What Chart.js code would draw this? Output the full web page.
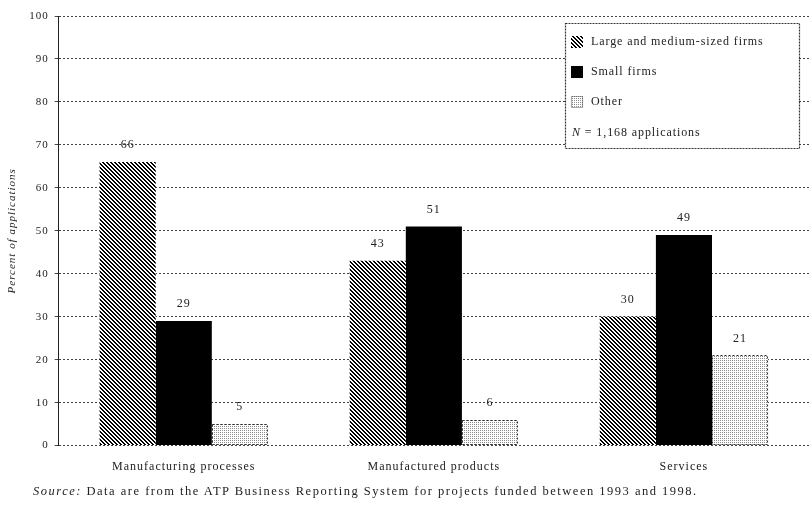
<!DOCTYPE html>
<html><head><meta charset="utf-8">
<script src="https://cdn.jsdelivr.net/npm/chart.js@4/dist/chart.umd.min.js"></script>
<style>
html,body{margin:0;padding:0;background:#fff;}
#wrap{position:relative;width:809px;height:505px;}
#src{position:absolute;left:33px;top:484px;font:12.5px "Liberation Serif",serif;letter-spacing:1.5px;color:#222;white-space:nowrap;}
</style></head>
<body>
<div id="wrap"><canvas id="c" width="809" height="505"></canvas>
<div id="src"><i>Source:</i> Data are from the ATP Business Reporting System for projects funded between 1993 and 1998.</div></div>
<script>
const categories = ["Manufacturing processes", "Manufactured products", "Services"];
const seriesNames = ["Large and medium-sized firms", "Small firms", "Other"];
const largeFirms = [66, 43, 30];
const smallFirms = [29, 51, 49];
const otherOrgs = [5, 6, 21];
const yTicks = [0,10,20,30,40,50,60,70,80,90,100];
const noteText = "N = 1,168 applications";

function makeTile(size, fn){
  const c=document.createElement('canvas'); c.width=size; c.height=size;
  const x=c.getContext('2d'); const d=x.createImageData(size,size);
  for(let j=0;j<size;j++)for(let i=0;i<size;i++){
    const v=fn(i,j); const k=(j*size+i)*4;
    d.data[k]=v;d.data[k+1]=v;d.data[k+2]=v;d.data[k+3]=255;
  }
  x.putImageData(d,0,0);
  return x.createPattern(c,'repeat');
}
const hatch = makeTile(4,(i,j)=>(((i-j)%4+4)%4<2)?0:255);
const dots = makeTile(2,(i,j)=>(i===0&&j===0)?140:255);

const F = '"Liberation Serif", serif';

const spacingPlugin = {
  id:'spacing',
  beforeLayout(ch){ ch.ctx.letterSpacing='1px'; },
  beforeDraw(ch){ ch.ctx.letterSpacing='1px'; }
};

const labelPlugin = {
  id:'labels',
  afterDatasetsDraw(chart){
    const ctx=chart.ctx;
    ctx.save();
    chart.getDatasetMeta(2).data.forEach(b=>{
      const w=b.width; ctx.setLineDash([2,2]); ctx.strokeStyle='#333'; ctx.lineWidth=1;
      ctx.strokeRect(Math.round(b.x-w/2)+0.5, Math.round(b.y)+0.5, Math.round(w)-1, Math.round(b.base-b.y)-1);
    });
    ctx.setLineDash([]);
    ctx.letterSpacing='1px';
    ctx.font='12px '+F; ctx.fillStyle='#222'; ctx.textAlign='center'; ctx.textBaseline='middle';
    chart.data.datasets.forEach((ds,di)=>{
      chart.getDatasetMeta(di).data.forEach((b,i)=>{
        ctx.fillText(String(ds.data[i]), b.x, b.y-17);
      });
    });
    // legend box
    const a=chart.chartArea;
    const bx=565, by=a.top+7, bw=234, bh=125;
    ctx.fillStyle='#fff'; ctx.fillRect(bx,by,bw,bh);
    ctx.setLineDash([2,1]); ctx.strokeStyle='#333'; ctx.lineWidth=1.2;
    ctx.strokeRect(bx+0.5,by+0.5,bw,bh);
    ctx.setLineDash([]);
    const fills=[hatch,'#000',dots];
    ctx.textAlign='left'; ctx.textBaseline='middle'; ctx.font='12px '+F;
    ctx.letterSpacing='0.9px';
    seriesNames.forEach((n,k)=>{
      const yy=by+19+k*30;
      ctx.fillStyle=fills[k]; ctx.fillRect(bx+6,yy-6,12,12);
      if(k===2){ctx.setLineDash([1,1]);ctx.strokeStyle='#555';ctx.strokeRect(bx+6.5,yy-5.5,11,11);ctx.setLineDash([]);}
      ctx.fillStyle='#222'; ctx.fillText(n,bx+26,yy);
    });
    ctx.font='italic 12px '+F;
    ctx.fillText('N',bx+7,by+110);
    const wN=ctx.measureText('N').width;
    ctx.font='12px '+F;
    ctx.fillText(noteText.slice(1),bx+7+wN,by+110);
    ctx.restore();
  }
};

new Chart(document.getElementById('c'),{
  type:'bar',
  data:{labels:categories,datasets:[
    {label:seriesNames[0],data:largeFirms,backgroundColor:hatch,borderWidth:0},
    {label:seriesNames[1],data:smallFirms,backgroundColor:'#000',borderWidth:0},
    {label:seriesNames[2],data:otherOrgs,backgroundColor:dots,borderWidth:0}
  ]},
  options:{
    responsive:false,animation:false,devicePixelRatio:1,
    layout:{padding:{top:16,bottom:17,right:0,left:2}},
    plugins:{legend:{display:false},tooltip:{enabled:false}},
    datasets:{bar:{barPercentage:1,categoryPercentage:0.673}},
    scales:{
      x:{grid:{display:false,drawTicks:false},border:{display:false},
         ticks:{color:'#222',font:{family:F,size:12},padding:14}},
      y:{min:0,max:100,
         afterBuildTicks(s){s.ticks=yTicks.map(v=>({value:v}));},
         grid:{color:'#444',lineWidth:1,tickLength:4},
         border:{display:true,dash:[2,2],color:'#222'},
         ticks:{color:'#222',font:{family:F,size:11},padding:6},
         title:{display:true,text:'Percent of applications',color:'#222',font:{family:F,size:11,style:'italic'},padding:{bottom:4}}
      }
    }
  },
  plugins:[spacingPlugin,labelPlugin,{id:'gd',beforeDraw(ch){ch.scales.y.options.grid.borderDash=[3,2];}}]
});
</script>
</body></html>
